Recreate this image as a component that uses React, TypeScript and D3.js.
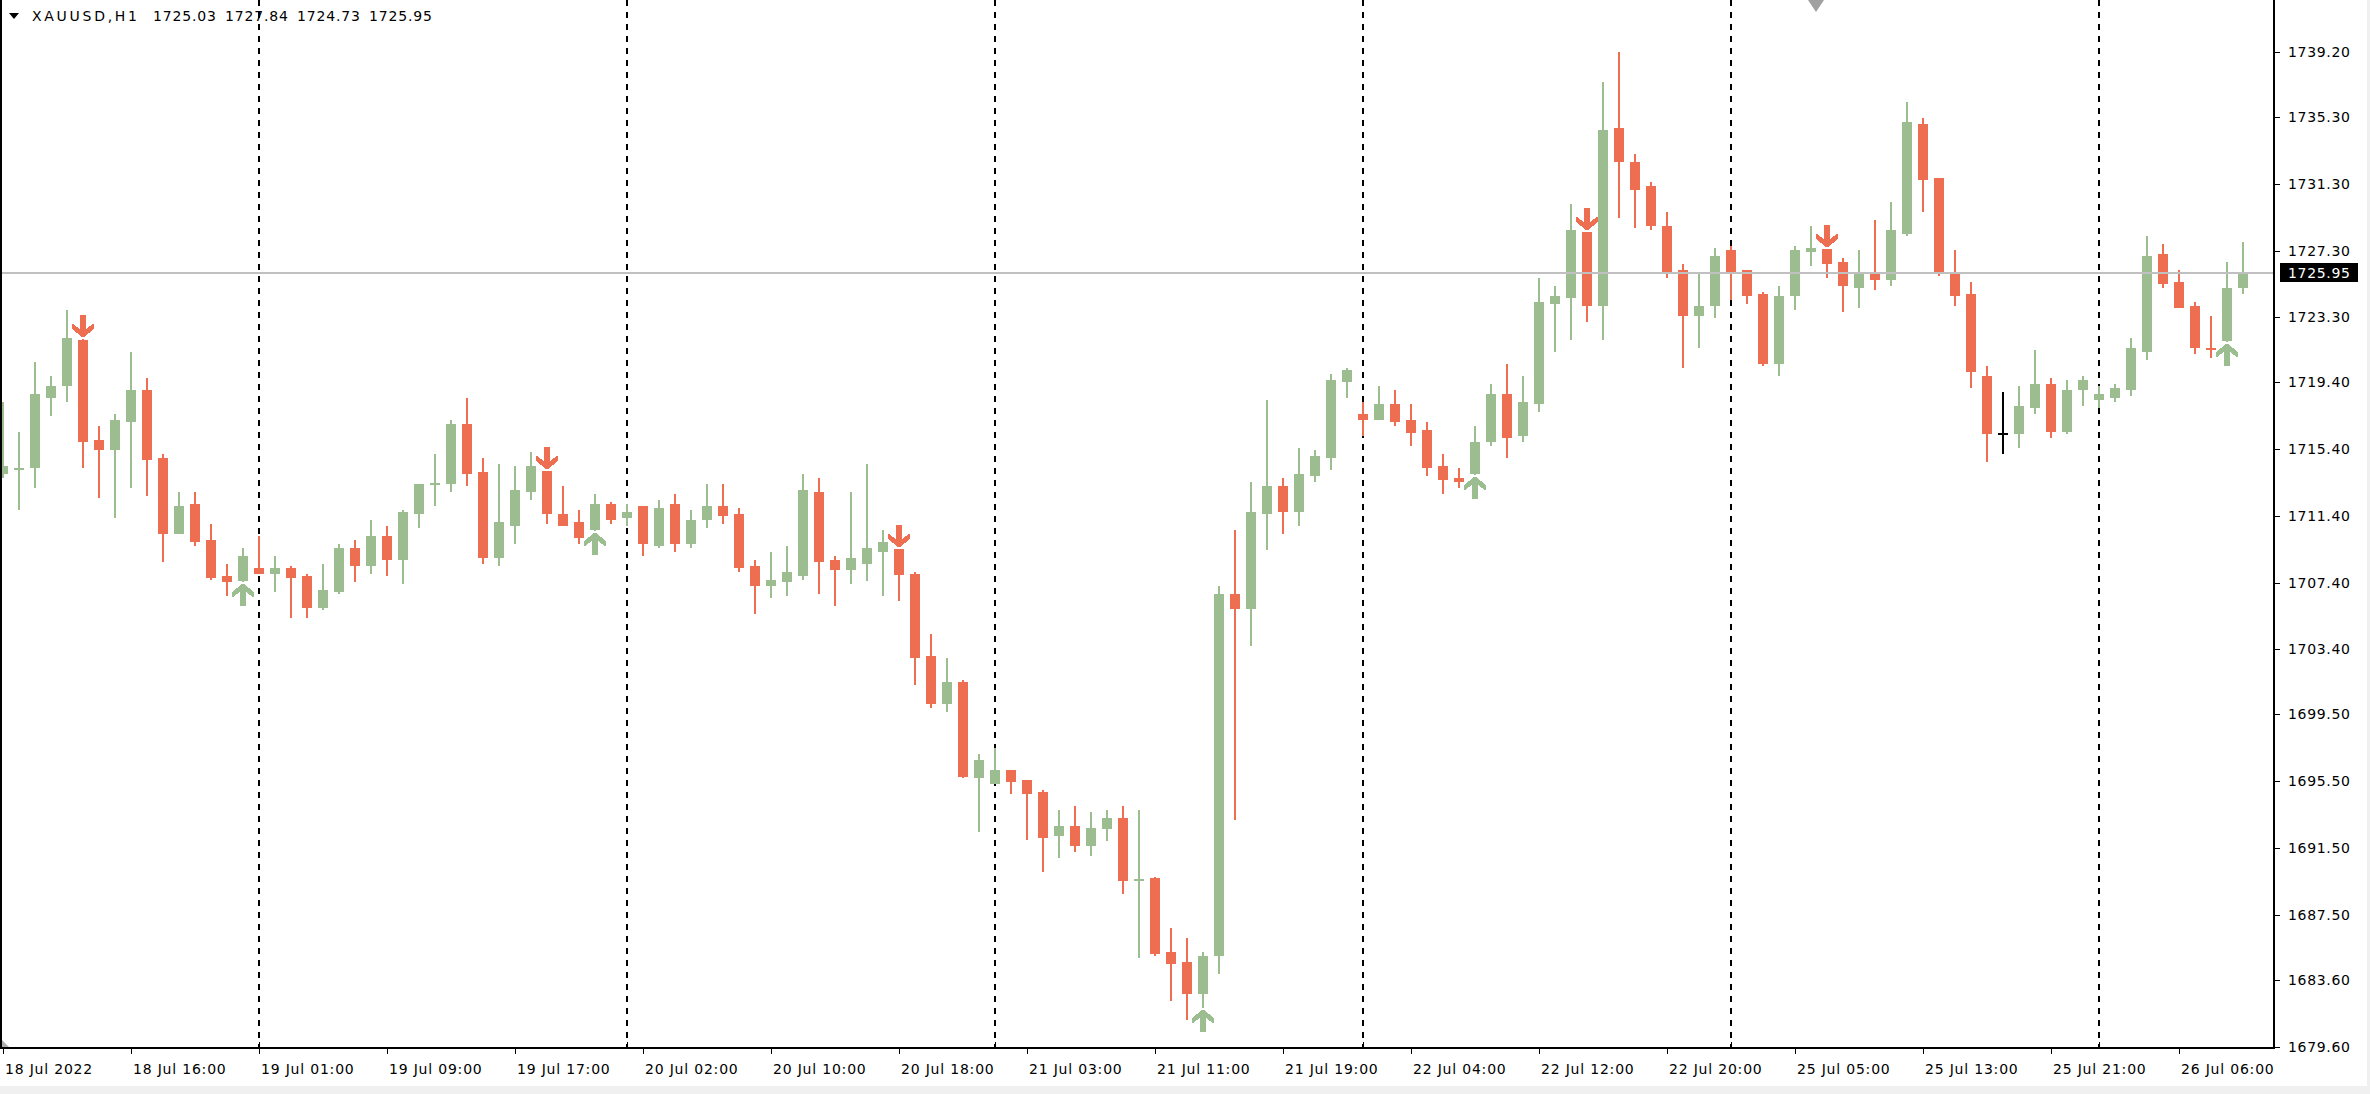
import React from 'react';
import * as d3 from 'd3';

// ---------- data ----------
const symbolLabel = 'XAUUSD,H1';
const headerValues = ['1725.03', '1727.84', '1724.73', '1725.95'];
const currentPrice = 1725.95;

const opens = [
  1713.95, 1714.17, 1714.29, 1718.48, 1719.20, 1721.94, 1715.95, 1715.37, 1717.04, 1718.94,
  1714.87, 1710.33, 1712.11, 1709.95, 1707.80, 1707.50, 1708.28, 1707.93, 1708.28, 1707.80,
  1705.90, 1706.86, 1709.47, 1708.41, 1710.19, 1708.77, 1711.53, 1713.25, 1713.33, 1716.91,
  1714.03, 1708.89, 1710.81, 1712.85, 1714.09, 1711.51, 1711.03, 1710.55, 1712.11, 1711.29,
  1711.99, 1709.61, 1712.11, 1709.73, 1711.17, 1711.99, 1711.51, 1708.40, 1707.21, 1707.45,
  1707.81, 1712.83, 1708.76, 1708.17, 1708.53, 1709.25, 1709.41, 1707.92, 1703.01, 1700.14,
  1701.45, 1695.71, 1695.35, 1696.17, 1695.58, 1694.85, 1692.23, 1692.80, 1691.63, 1692.60,
  1693.28, 1689.61, 1689.69, 1685.28, 1684.68, 1682.78, 1685.04, 1706.72, 1705.80, 1711.51,
  1713.20, 1711.64, 1713.78, 1714.89, 1719.42, 1717.50, 1717.16, 1718.10, 1717.16, 1716.55,
  1714.39, 1713.67, 1713.91, 1715.83, 1718.70, 1716.19, 1718.10, 1724.10, 1724.46, 1728.41,
  1723.98, 1734.65, 1732.61, 1731.17, 1728.77, 1726.14, 1723.38, 1723.98, 1727.33, 1726.14,
  1724.70, 1720.50, 1724.58, 1727.21, 1727.39, 1726.61, 1725.06, 1725.90, 1725.54, 1728.29,
  1734.89, 1731.65, 1726.02, 1724.70, 1719.78, 1716.38, 1716.31, 1717.87, 1719.30, 1716.43,
  1718.94, 1718.34, 1718.46, 1718.94, 1721.22, 1727.09, 1725.42, 1723.98, 1721.46, 1721.88,
  1725.03,
];
const highs = [
  1718.24, 1716.43, 1720.62, 1719.78, 1723.74, 1722.00, 1716.79, 1717.51, 1721.22, 1719.66,
  1715.11, 1712.83, 1712.83, 1710.91, 1708.52, 1709.47, 1710.19, 1709.00, 1708.40, 1707.92,
  1708.52, 1709.71, 1709.95, 1711.15, 1710.79, 1711.75, 1713.31, 1715.11, 1717.15, 1718.46,
  1714.87, 1714.51, 1714.39, 1715.23, 1714.09, 1713.19, 1711.75, 1712.71, 1712.23, 1712.11,
  1711.99, 1712.35, 1712.71, 1711.75, 1713.31, 1713.31, 1711.87, 1708.76, 1709.23, 1709.59,
  1713.91, 1713.67, 1709.00, 1712.83, 1714.50, 1710.55, 1709.41, 1708.01, 1704.32, 1702.87,
  1701.56, 1697.13, 1697.46, 1696.17, 1695.58, 1694.98, 1693.77, 1694.02, 1693.65, 1693.77,
  1694.02, 1693.77, 1689.76, 1686.70, 1686.13, 1685.28, 1707.19, 1710.57, 1713.44, 1718.34,
  1713.68, 1715.47, 1715.34, 1719.90, 1720.27, 1718.24, 1719.18, 1718.95, 1718.10, 1717.03,
  1715.11, 1714.27, 1716.79, 1719.30, 1720.50, 1719.78, 1725.66, 1725.18, 1730.09, 1728.41,
  1737.40, 1739.20, 1733.09, 1731.41, 1729.61, 1726.49, 1726.02, 1727.45, 1727.57, 1726.14,
  1724.82, 1725.18, 1727.57, 1728.77, 1727.39, 1726.85, 1727.33, 1729.13, 1730.21, 1736.20,
  1735.24, 1731.65, 1727.33, 1725.42, 1720.38, 1718.82, 1719.18, 1721.34, 1719.66, 1719.54,
  1719.78, 1719.18, 1719.30, 1722.06, 1728.17, 1727.69, 1726.14, 1724.22, 1723.38, 1726.61,
  1727.84,
];
const lows = [
  1713.69, 1711.77, 1713.09, 1717.40, 1718.24, 1714.29, 1712.49, 1711.29, 1713.09, 1712.61,
  1708.65, 1710.33, 1709.61, 1707.57, 1706.62, 1707.44, 1707.92, 1706.86, 1705.30, 1705.30,
  1705.78, 1706.74, 1707.45, 1707.93, 1707.81, 1707.33, 1710.69, 1712.01, 1712.85, 1713.21,
  1708.53, 1708.41, 1709.73, 1712.37, 1710.93, 1710.79, 1709.73, 1710.49, 1710.93, 1710.81,
  1709.01, 1709.49, 1709.25, 1709.49, 1710.69, 1710.93, 1708.05, 1705.54, 1706.50, 1706.62,
  1707.57, 1706.74, 1706.02, 1707.33, 1707.46, 1706.61, 1706.27, 1701.22, 1699.91, 1699.63,
  1695.69, 1692.48, 1695.33, 1694.75, 1692.00, 1690.07, 1690.92, 1691.27, 1691.03, 1691.89,
  1688.75, 1684.92, 1685.02, 1682.30, 1681.19, 1681.91, 1683.96, 1693.19, 1703.60, 1709.35,
  1710.33, 1710.80, 1713.44, 1714.15, 1718.48, 1716.18, 1717.12, 1716.79, 1715.60, 1713.78,
  1712.71, 1713.07, 1713.85, 1715.59, 1714.87, 1715.83, 1717.63, 1721.22, 1721.94, 1723.02,
  1721.94, 1729.25, 1728.65, 1728.53, 1725.66, 1720.26, 1721.46, 1723.26, 1724.34, 1724.10,
  1720.38, 1719.78, 1723.74, 1726.37, 1725.67, 1723.62, 1723.86, 1724.94, 1725.18, 1728.17,
  1729.61, 1725.78, 1723.98, 1719.06, 1714.63, 1715.11, 1715.47, 1717.51, 1716.07, 1716.31,
  1717.98, 1717.87, 1718.22, 1718.58, 1720.74, 1725.06, 1723.86, 1721.10, 1720.86, 1721.82,
  1724.73,
];
const closes = [
  1714.41, 1714.25, 1718.70, 1719.18, 1722.06, 1715.85, 1715.37, 1717.15, 1718.94, 1714.77,
  1710.33, 1711.99, 1709.85, 1707.69, 1707.45, 1709.00, 1707.93, 1708.28, 1707.69, 1705.90,
  1706.96, 1709.47, 1708.41, 1710.19, 1708.77, 1711.63, 1713.31, 1713.39, 1716.91, 1713.93,
  1708.89, 1711.03, 1712.95, 1714.39, 1711.53, 1710.81, 1710.09, 1712.11, 1711.17, 1711.63,
  1709.73, 1711.87, 1709.73, 1711.15, 1711.99, 1711.41, 1708.29, 1707.21, 1707.56, 1708.04,
  1712.95, 1708.65, 1708.17, 1708.88, 1709.47, 1709.85, 1707.83, 1702.89, 1700.14, 1701.45,
  1695.75, 1696.77, 1696.17, 1695.46, 1694.75, 1692.11, 1692.80, 1691.63, 1692.69, 1693.28,
  1689.48, 1689.66, 1685.14, 1684.57, 1682.78, 1685.04, 1706.72, 1705.80, 1711.64, 1713.20,
  1711.64, 1713.91, 1714.99, 1719.56, 1720.16, 1717.16, 1718.10, 1717.03, 1716.41, 1714.28,
  1713.55, 1713.43, 1715.83, 1718.70, 1716.07, 1718.22, 1724.22, 1724.58, 1728.53, 1723.98,
  1734.53, 1732.61, 1730.93, 1728.77, 1726.02, 1723.38, 1723.98, 1726.97, 1726.02, 1724.58,
  1720.50, 1724.58, 1727.33, 1727.45, 1726.51, 1725.18, 1726.02, 1725.54, 1728.53, 1735.00,
  1731.53, 1725.90, 1724.58, 1720.02, 1716.31, 1716.38, 1717.98, 1719.30, 1716.43, 1718.94,
  1719.54, 1718.70, 1719.06, 1721.46, 1726.97, 1725.30, 1723.89, 1721.46, 1721.38, 1725.06,
  1725.95,
];

const upArrowBars = [15, 37, 75, 92, 139];
const downArrowBars = [5, 34, 56, 99, 114];
const daySeparatorBars = [16, 39, 62, 85, 108, 131];

const timeLabelBars = [0, 8, 16, 24, 32, 40, 48, 56, 64, 72, 80, 88, 96, 104, 112, 120, 128, 136];
const timeLabels = [
  '18 Jul 2022', '18 Jul 16:00', '19 Jul 01:00', '19 Jul 09:00', '19 Jul 17:00', '20 Jul 02:00',
  '20 Jul 10:00', '20 Jul 18:00', '21 Jul 03:00', '21 Jul 11:00', '21 Jul 19:00', '22 Jul 04:00',
  '22 Jul 12:00', '22 Jul 20:00', '25 Jul 05:00', '25 Jul 13:00', '25 Jul 21:00', '26 Jul 06:00',
];

const priceTicks = [
  1739.2, 1735.3, 1731.3, 1727.3, 1723.3, 1719.4, 1715.4, 1711.4,
  1707.4, 1703.4, 1699.5, 1695.5, 1691.5, 1687.5, 1683.6, 1679.6,
];

// ---------- style ----------
const BULL = '#9BBD90';
const BEAR = '#EE6E52';
const FONT = '"DejaVu Sans", Verdana, sans-serif';

const W = 2370;
const H = 1094;
const AXIS_X = 2273; // right price axis line
const AXIS_Y = 1047; // bottom time axis line

export default function App() {
  const n = opens.length;
  const x = d3.scaleLinear().domain([0, n - 1]).range([3, 3 + 16 * (n - 1)]);
  const y = d3
    .scaleLinear()
    .domain([d3.min(priceTicks) as number, d3.max(priceTicks) as number])
    .range([1046.5, 52]);

  const bodyHalf = 5;

  const candles = d3.range(n).map((i) => {
    const cx = x(i);
    const o = opens[i];
    const c = closes[i];
    const yo = y(o);
    const yc = y(c);
    const yh = y(highs[i]);
    const yl = y(lows[i]);
    const doji = o === c;
    const color = doji ? '#000000' : c > o ? BULL : BEAR;
    const top = Math.round(Math.min(yo, yc));
    let h = Math.round(Math.abs(yo - yc));
    if (h < 2) h = 2;
    return (
      <g key={i} fill={color}>
        <rect x={cx - 1} y={Math.round(yh)} width={2} height={Math.max(1, Math.round(yl - yh))} />
        <rect x={cx - bodyHalf} y={top} width={bodyHalf * 2} height={h} />
      </g>
    );
  });

  const downArrow = (cx: number, ty: number) =>
    [
      [cx - 3, ty - 22],
      [cx + 3, ty - 22],
      [cx + 3, ty - 8],
      [cx + 10, ty - 13],
      [cx + 11, ty - 13],
      [cx + 11, ty - 8],
      [cx + 1, ty],
      [cx - 1, ty],
      [cx - 11, ty - 8],
      [cx - 11, ty - 13],
      [cx - 10, ty - 13],
      [cx - 3, ty - 8],
    ]
      .map((p) => p.join(','))
      .join(' ');
  const upArrow = (cx: number, ty: number) =>
    [
      [cx - 3, ty + 22],
      [cx + 3, ty + 22],
      [cx + 3, ty + 8],
      [cx + 10, ty + 13],
      [cx + 11, ty + 13],
      [cx + 11, ty + 8],
      [cx + 1, ty],
      [cx - 1, ty],
      [cx - 11, ty + 8],
      [cx - 11, ty + 13],
      [cx - 10, ty + 13],
      [cx - 3, ty + 8],
    ]
      .map((p) => p.join(','))
      .join(' ');

  const cpY = Math.round(y(currentPrice));

  return (
    <svg
      width={W}
      height={H}
      style={{ position: 'absolute', left: 0, top: 0, display: 'block', background: '#ffffff' }}
    >
      <rect x={0} y={0} width={W} height={H} fill="#ffffff" />

      {/* day separators */}
      {daySeparatorBars.map((b) => (
        <line
          key={'sep' + b}
          x1={x(b)}
          x2={x(b)}
          y1={0}
          y2={AXIS_Y}
          stroke="#000"
          strokeWidth={2}
          strokeDasharray="6 6"
          shapeRendering="crispEdges"
        />
      ))}

      {/* candles */}
      <g shapeRendering="crispEdges">{candles}</g>

      {/* arrows */}
      <g shapeRendering="crispEdges">
        {downArrowBars.map((b) => (
          <polygon key={'da' + b} points={downArrow(x(b), Math.round(y(highs[b])) - 2)} fill={BEAR} />
        ))}
        {upArrowBars.map((b) => (
          <polygon key={'ua' + b} points={upArrow(x(b), Math.round(y(lows[b])) + 2)} fill={BULL} />
        ))}
      </g>

      {/* bid line */}
      <rect x={0} y={cpY - 1} width={AXIS_X} height={2} fill="#c0c0c0" shapeRendering="crispEdges" />

      {/* frame */}
      <g fill="#000" shapeRendering="crispEdges">
        <rect x={0} y={0} width={2} height={AXIS_Y + 2} />
        <rect x={0} y={AXIS_Y} width={AXIS_X + 2} height={2} />
        <rect x={AXIS_X} y={0} width={2} height={AXIS_Y + 2} />
      </g>

      {/* price axis */}
      <g fontFamily={FONT} fontSize={14}>
        {priceTicks.map((p) => (
          <g key={'pt' + p}>
            <rect x={AXIS_X + 2} y={Math.round(y(p))} width={5} height={1} fill="#000" shapeRendering="crispEdges" />
            <text x={2288} y={y(p)} dy="0.36em" fill="#000" textLength={62} lengthAdjust="spacing">
              {p.toFixed(2)}
            </text>
          </g>
        ))}
        <rect x={2280} y={cpY - 10} width={78} height={19} fill="#000" shapeRendering="crispEdges" />
        <text x={2288} y={cpY - 0.5} dy="0.36em" fill="#fff" textLength={62} lengthAdjust="spacing">
          {currentPrice.toFixed(2)}
        </text>
      </g>

      {/* time axis */}
      <g fontFamily={FONT} fontSize={14}>
        {timeLabelBars.map((b, k) => (
          <g key={'tl' + b}>
            <rect x={x(b)} y={AXIS_Y + 2} width={1} height={5} fill="#000" shapeRendering="crispEdges" />
            <text x={x(b) + 2} y={1074} fill="#000" letterSpacing={0.8}>
              {timeLabels[k]}
            </text>
          </g>
        ))}
        {daySeparatorBars.map((b) => (
          <rect key={'su' + b} x={x(b)} y={AXIS_Y - 5} width={1} height={5} fill="#000" shapeRendering="crispEdges" />
        ))}
      </g>

      {/* header */}
      <polygon points="9,13 19,13 14,19" fill="#000" />
      <g fontFamily={FONT} fontSize={14} fill="#000">
        <text x={32} y={21} textLength={105} lengthAdjust="spacing">
          {symbolLabel}
        </text>
        {headerValues.map((v, k) => (
          <text key={'hv' + k} x={153 + 72 * k} y={21} textLength={63} lengthAdjust="spacing">
            {v}
          </text>
        ))}
      </g>

      {/* chart shift marker */}
      <polygon points="1808,0 1824,0 1816,12" fill="#a0a0a0" />
      <polygon points="2,1040 2,1047 9,1047" fill="#b0b0b0" />

      {/* window edges */}
      <rect x={0} y={1086} width={W} height={8} fill="#f0f0f0" />
      <rect x={2367} y={0} width={3} height={H} fill="#f0f0f0" />
    </svg>
  );
}
